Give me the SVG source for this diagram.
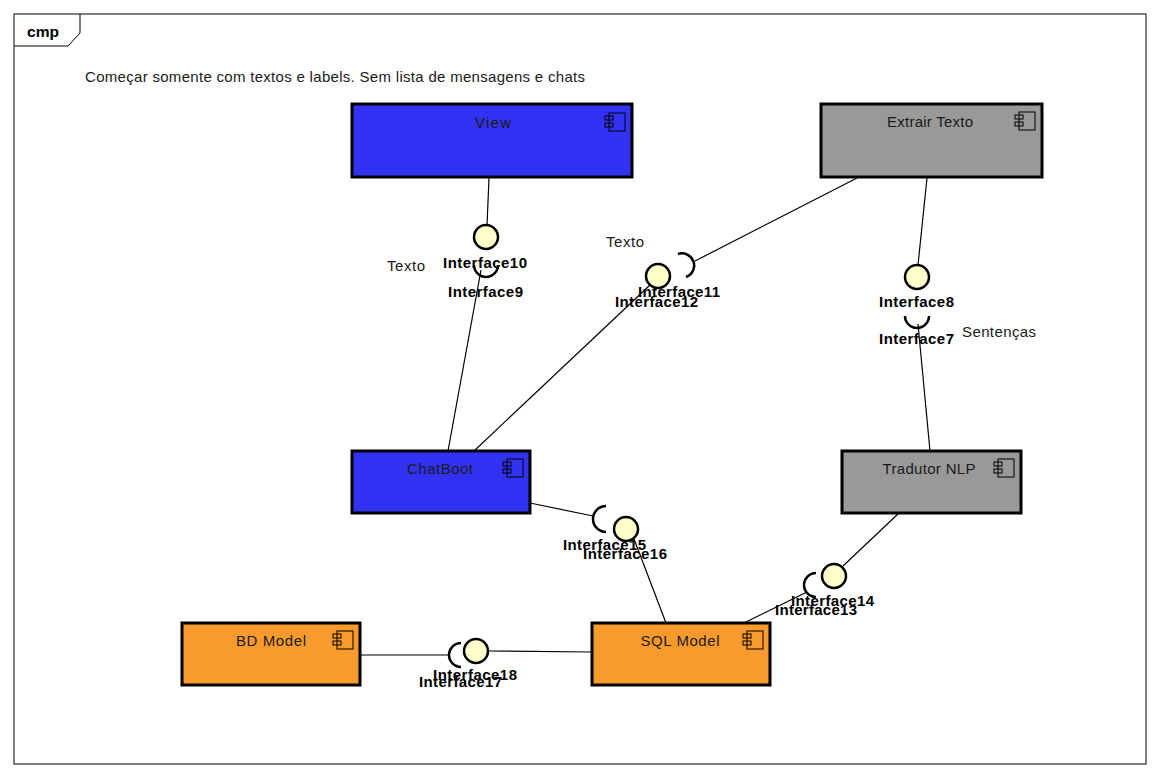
<svg xmlns="http://www.w3.org/2000/svg" xmlns:xlink="http://www.w3.org/1999/xlink" width="1158" height="777" viewBox="0 0 1158 777">
<style>
.frame{fill:none;stroke:#000;stroke-width:1}
.comp{stroke:#000;stroke-width:3}
.blue{fill:#3232F2}
.gray{fill:#999999}
.orange{fill:#F99A2C}
.name{font-family:"Liberation Sans",Arial,sans-serif;font-size:15px;fill:#1a1a1a;text-anchor:middle}
.lbl{font-family:"Liberation Sans",Arial,sans-serif;font-size:15px;font-weight:bold;fill:#000}
.note{font-family:"Liberation Sans",Arial,sans-serif;font-size:15px;fill:#1a1a1a}
.ball{fill:#FFFFCC;stroke:#000;stroke-width:2.5}
.sock{fill:none;stroke:#000;stroke-width:2.5}
.conn line{stroke:#000;stroke-width:1.2}
.icon rect{fill:none;stroke:#000;stroke-width:1}
</style>
<defs>
<g id="cicon" class="icon">
<rect x="4" y="0" width="16" height="18"/>
<rect x="0" y="3" width="8" height="4"/>
<rect x="0" y="10" width="8" height="4"/>
</g>
</defs>
<rect width="1158" height="777" fill="#fff"/>
<g id="frame">
<rect class="frame" x="14" y="14" width="1132" height="750"/>
<path class="frame" d="M14,46 H68 L80,33 V14"/>
<text x="27" y="37" class="lbl" textLength="32" lengthAdjust="spacingAndGlyphs">cmp</text>
<text x="85" y="82" class="note" textLength="500">Começar somente com textos e labels. Sem lista de mensagens e chats</text>
</g>
<g id="connectors" class="conn">
<line x1="489" y1="178" x2="487" y2="225"/>
<line x1="448" y1="451" x2="481" y2="270"/>
<line x1="474" y1="451" x2="650" y2="285"/>
<line x1="857" y1="178" x2="695" y2="261"/>
<line x1="927" y1="178" x2="918" y2="265"/>
<line x1="930" y1="451" x2="918" y2="324"/>
<line x1="530" y1="503" x2="593" y2="516"/>
<line x1="634" y1="539" x2="666" y2="623"/>
<line x1="899" y1="513" x2="843" y2="566"/>
<line x1="744" y1="623" x2="807" y2="592"/>
<line x1="360" y1="655" x2="449" y2="655"/>
<line x1="488" y1="651" x2="592" y2="652"/>
</g>
<g id="View">
<rect class="comp blue" x="352" y="104" width="280" height="73"/>
<text x="493" y="128" class="name" textLength="36">View</text>
<use xlink:href="#cicon" x="605" y="113"/>
</g>
<g id="ExtrairTexto">
<rect class="comp gray" x="821" y="104" width="221" height="73"/>
<text x="930" y="127" class="name" textLength="86">Extrair Texto</text>
<use xlink:href="#cicon" x="1015" y="112"/>
</g>
<g id="ChatBoot">
<rect class="comp blue" x="352" y="451" width="178" height="62"/>
<text x="440" y="474" class="name" textLength="66">ChatBoot</text>
<use xlink:href="#cicon" x="503" y="459"/>
</g>
<g id="TradutorNLP">
<rect class="comp gray" x="842" y="451" width="179" height="62"/>
<text x="929" y="474" class="name" textLength="93">Tradutor NLP</text>
<use xlink:href="#cicon" x="994" y="459"/>
</g>
<g id="BDModel">
<rect class="comp orange" x="182" y="623" width="178" height="62"/>
<text x="271" y="646" class="name" textLength="70">BD Model</text>
<use xlink:href="#cicon" x="333" y="631"/>
</g>
<g id="SQLModel">
<rect class="comp orange" x="592" y="623" width="178" height="62"/>
<text x="680" y="646" class="name" textLength="79">SQL Model</text>
<use xlink:href="#cicon" x="743" y="631"/>
</g>
<g id="Interface10">
<circle class="ball" cx="486" cy="237" r="12"/>
<text x="443" y="268" class="lbl" textLength="84">Interface10</text>
</g>
<g id="Interface9">
<path class="sock" d="M474,265 A12,12 0 0 0 498,265"/>
<text x="448" y="297" class="lbl" textLength="75">Interface9</text>
<text x="387" y="271" class="note" textLength="38">Texto</text>
</g>
<g id="Interface12">
<circle class="ball" cx="658" cy="276" r="12"/>
<text x="615" y="307" class="lbl" textLength="83">Interface12</text>
</g>
<g id="Interface11">
<path class="sock" d="M678,254 A12,12 0 0 1 686,277"/>
<text x="638" y="297" class="lbl" textLength="82">Interface11</text>
<text x="606" y="247" class="note" textLength="38">Texto</text>
</g>
<g id="Interface8">
<circle class="ball" cx="917" cy="277" r="12"/>
<text x="879" y="307" class="lbl" textLength="75">Interface8</text>
</g>
<g id="Interface7">
<path class="sock" d="M905,316 A12,12 0 0 0 929,316"/>
<text x="879" y="344" class="lbl" textLength="75">Interface7</text>
<text x="962" y="337" class="note" textLength="74">Sentenças</text>
</g>
<g id="Interface15">
<path class="sock" d="M606,506 A13,13 0 0 0 606,532"/>
<text x="563" y="550" class="lbl" textLength="83">Interface15</text>
</g>
<g id="Interface16">
<circle class="ball" cx="626" cy="529" r="12"/>
<text x="583" y="559" class="lbl" textLength="84">Interface16</text>
</g>
<g id="Interface14">
<circle class="ball" cx="834" cy="576" r="12"/>
<text x="791" y="606" class="lbl" textLength="83">Interface14</text>
</g>
<g id="Interface13">
<path class="sock" d="M816,573 A12,12 0 0 0 816,597"/>
<text x="775" y="615" class="lbl" textLength="82">Interface13</text>
</g>
<g id="Interface18">
<circle class="ball" cx="476" cy="651" r="12"/>
<text x="433" y="680" class="lbl" textLength="84">Interface18</text>
</g>
<g id="Interface17">
<path class="sock" d="M461,643 A12,12 0 0 0 461,667"/>
<text x="419" y="687" class="lbl" textLength="83">Interface17</text>
</g>
</svg>
